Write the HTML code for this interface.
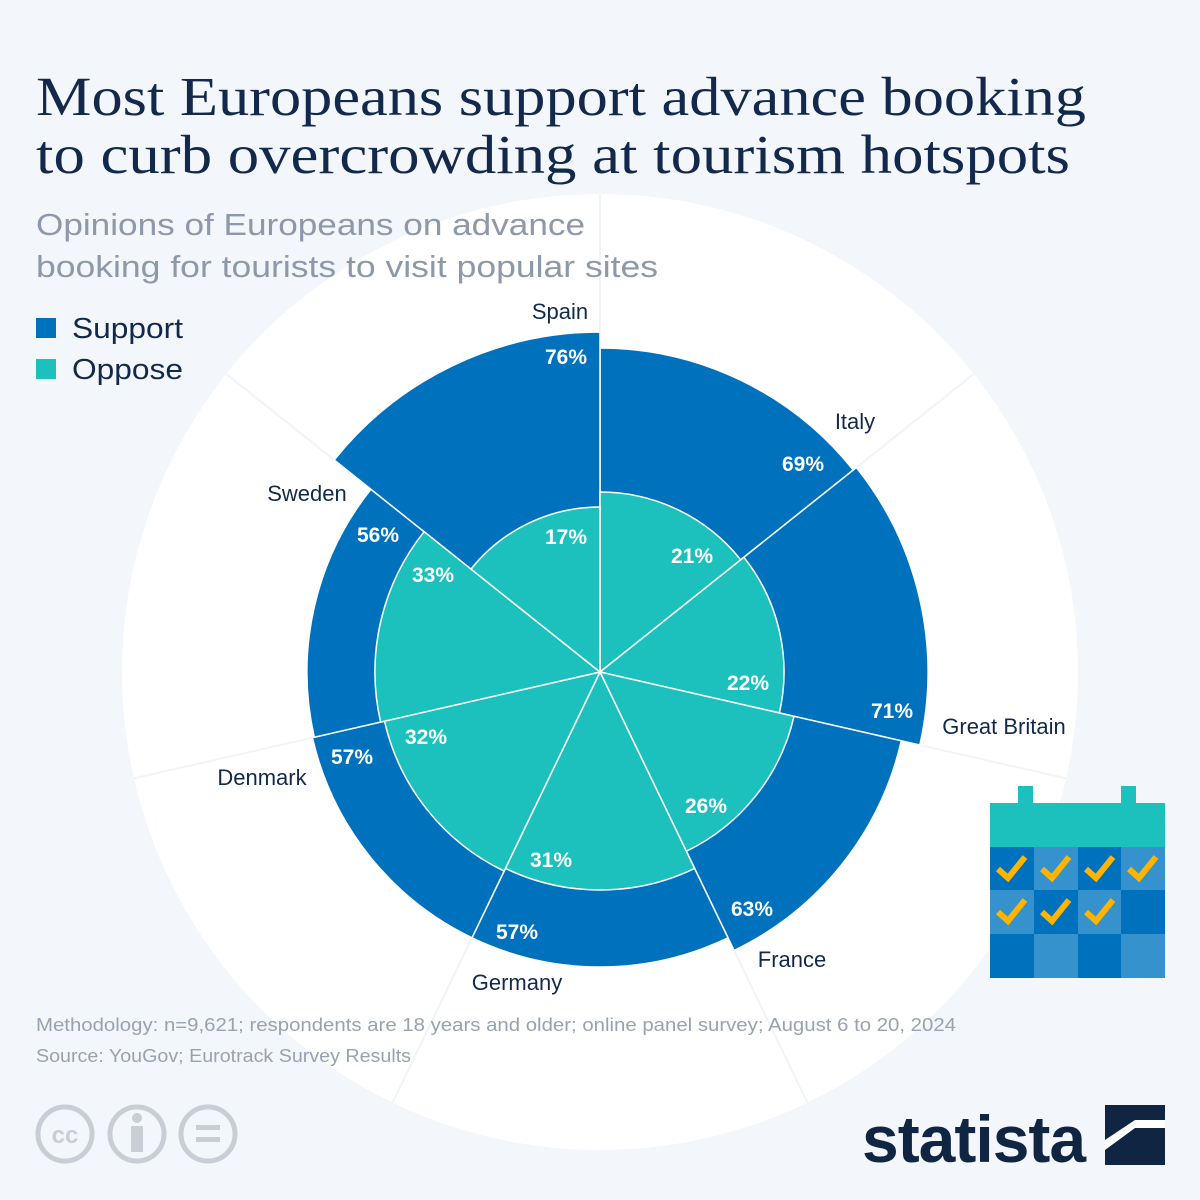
<!DOCTYPE html>
<html><head><meta charset="utf-8"><style>
body{margin:0;width:1200px;height:1200px;overflow:hidden;background:#f3f6fa;font-family:"Liberation Sans",sans-serif}
svg{position:absolute;left:0;top:0}
</style></head><body>
<svg id="s" width="1200" height="1200" viewBox="0 0 1200 1200">
<circle cx="600" cy="672" r="478" fill="#ffffff"/>
<g id="bg"></g>
<g id="bars"></g>
<g font-family="Liberation Serif, serif" fill="#13294b" font-size="55">
<text x="36" y="115" textLength="1050" lengthAdjust="spacingAndGlyphs">Most Europeans support advance booking</text>
<text x="36" y="173" textLength="1034" lengthAdjust="spacingAndGlyphs">to curb overcrowding at tourism hotspots</text>
</g>
<g fill="#8d98a9" font-size="31">
<text x="36" y="235" textLength="549" lengthAdjust="spacingAndGlyphs">Opinions of Europeans on advance</text>
<text x="36" y="277" textLength="622" lengthAdjust="spacingAndGlyphs">booking for tourists to visit popular sites</text>
</g>
<rect x="36" y="318" width="20" height="20" fill="#0071bc"/>
<rect x="36" y="359" width="20" height="20" fill="#1cc1bd"/>
<g fill="#13294b" font-size="29"><text x="72" y="338" textLength="111" lengthAdjust="spacingAndGlyphs">Support</text><text x="72" y="379" textLength="111" lengthAdjust="spacingAndGlyphs">Oppose</text></g>
<g fill="#13294b" font-size="22" text-anchor="middle">
<text x="560" y="319">Spain</text><text x="855" y="429">Italy</text><text x="1004" y="734">Great Britain</text>
<text x="792" y="967">France</text><text x="517" y="990">Germany</text><text x="262" y="785">Denmark</text><text x="307" y="501">Sweden</text>
</g>
<g fill="#fff" font-size="21" font-weight="bold" text-anchor="middle">
<text x="566" y="364">76%</text><text x="803" y="471">69%</text><text x="892" y="718">71%</text><text x="752" y="916">63%</text>
<text x="517" y="939">57%</text><text x="352" y="764">57%</text><text x="378" y="542">56%</text>
<text x="566" y="544">17%</text><text x="692" y="563">21%</text><text x="748" y="690">22%</text><text x="706" y="813">26%</text>
<text x="551" y="867">31%</text><text x="426" y="744">32%</text><text x="433" y="582">33%</text>
</g>
<g fill="#98a2b1" font-size="18">
<text x="36" y="1031" textLength="920" lengthAdjust="spacingAndGlyphs">Methodology: n=9,621; respondents are 18 years and older; online panel survey; August 6 to 20, 2024</text>
<text x="36" y="1062" textLength="375" lengthAdjust="spacingAndGlyphs">Source: YouGov; Eurotrack Survey Results</text>
</g>
<g fill="none" stroke="#c9ced6" stroke-width="5">
<circle cx="65" cy="1134" r="27"/><circle cx="137" cy="1134" r="27"/><circle cx="208" cy="1134" r="27"/>
</g>
<text x="65" y="1143" font-size="24" font-weight="bold" fill="#c9ced6" text-anchor="middle">cc</text>
<circle cx="137" cy="1118" r="5" fill="#c9ced6"/><rect x="131" y="1126" width="12" height="26" fill="#c9ced6"/>
<rect x="196" y="1125" width="24" height="5" fill="#c9ced6"/><rect x="196" y="1137" width="24" height="5" fill="#c9ced6"/>
<text x="862" y="1162" font-size="66" font-weight="bold" fill="#0f2542" letter-spacing="-1">statista</text>
<rect x="1105" y="1105" width="60" height="60" fill="#0f2542"/>
<path d="M1105 1150 L1135 1128 L1165 1128 L1165 1120 L1135 1120 L1105 1140Z" fill="#fff"/>
<g>
<rect x="1018" y="786" width="15" height="20" fill="#1cc1bd"/><rect x="1121" y="786" width="15" height="20" fill="#1cc1bd"/>
<rect x="990" y="803" width="175" height="44" fill="#1cc1bd"/>
<g id="cal"></g>
</g>
</svg>
<script>
var cx=600,cy=672,st=360/7;
function P(a,r){a=a*Math.PI/180;return [(cx+r*Math.sin(a)).toFixed(1),(cy-r*Math.cos(a)).toFixed(1)];}
function sec(a0,a1,r,col){var p0=P(a0,r),p1=P(a1,r);return '<path d="M600 672 L'+p0+' A'+r+' '+r+' 0 0 1 '+p1+' Z" fill="'+col+'" stroke="#fff" stroke-width="1.5"/>';}
var out=[324,328,309,295,295,293,340],inn=[180,184,199,218,221,225,165],h='',b='';
for(var i=0;i<7;i++){var e=P(i*st,478);b+='<line x1="600" y1="672" x2="'+e[0]+'" y2="'+e[1]+'" stroke="#f0f3f8" stroke-width="2"/>';}
for(var i=0;i<7;i++)h+=sec(i*st,(i+1)*st,out[i],'#0071bc');
for(var i=0;i<7;i++)h+=sec(i*st,(i+1)*st,inn[i],'#1cc1bd');
document.getElementById('bg').innerHTML=b;document.getElementById('bars').innerHTML=h;
var xs=[990,1034,1078,1121,1165],ys=[847,890,934,978],c='';
for(var r=0;r<3;r++)for(var k=0;k<4;k++){var d=(r+k)%2==0;c+='<rect x="'+xs[k]+'" y="'+ys[r]+'" width="'+(xs[k+1]-xs[k])+'" height="'+(ys[r+1]-ys[r])+'" fill="'+(d?'#0071bc':'#3592cc')+'"/>';
if(r*4+k<7){var x=xs[k],y=ys[r];c+='<path d="M'+(x+8)+' '+(y+22)+' L'+(x+18)+' '+(y+31)+' L'+(x+35)+' '+(y+10)+'" fill="none" stroke="#ffb400" stroke-width="6"/>';}}
document.getElementById('cal').innerHTML=c;
</script>
</body></html>
